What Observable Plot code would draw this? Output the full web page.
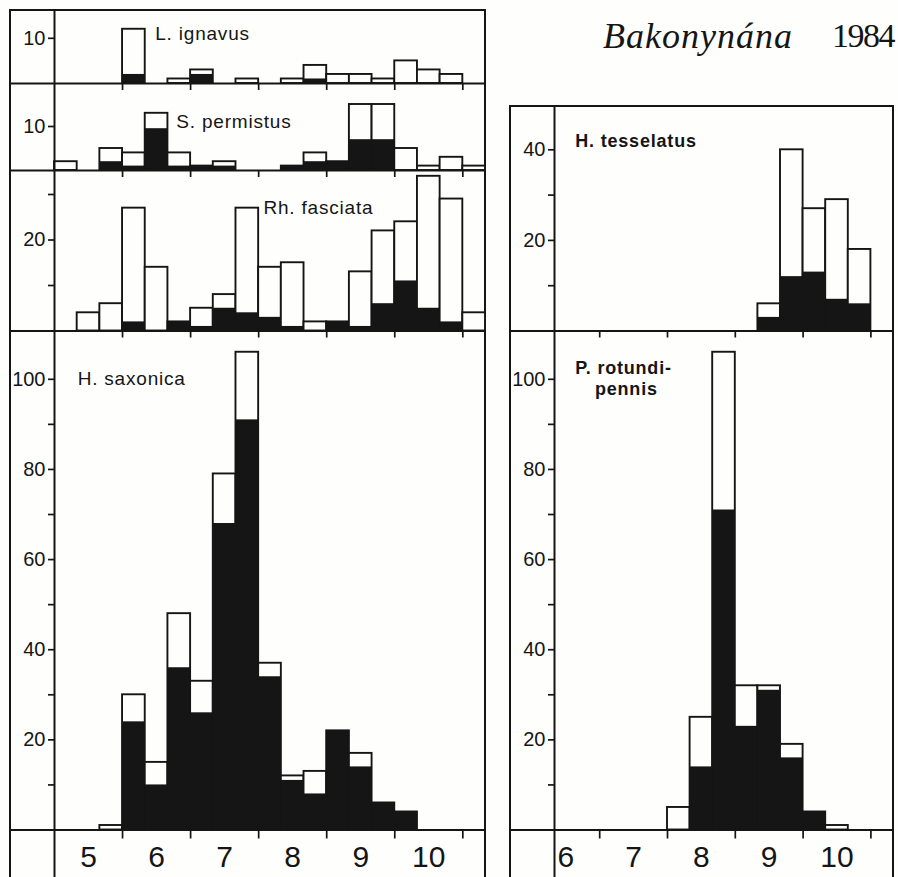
<!DOCTYPE html>
<html>
<head>
<meta charset="utf-8">
<script src="https://cdn.jsdelivr.net/npm/d3@7"></script>
<script src="https://cdn.jsdelivr.net/npm/@observablehq/plot@0.6"></script>
<style>
html, body { margin: 0; padding: 0; background: #fefefc; }
#fig { position: relative; width: 898px; height: 877px; overflow: hidden; background: #fefefc; }
.frame { position: absolute; box-sizing: border-box; border: 2px solid #151515; border-bottom: none; }
.title { position: absolute; font-family: "Liberation Serif", "Times New Roman", serif; font-size: 36px; line-height: 36px; color: #151515; white-space: nowrap; }
#fig svg { position: absolute; }
#fig svg g[aria-label="text"] text { letter-spacing: 0.8px; }
</style>
</head>
<body>
<div id="fig">
  <div class="frame" style="left:9px; top:9px; width:477px; height:900px;"></div>
  <div class="frame" style="left:509px; top:105px; width:385px; height:900px;"></div>
  <div class="title" style="left:603px; top:18px; letter-spacing:1px;"><i>Bakonynána</i></div>
  <div class="title" style="left:832px; top:18px; font-size:34px; letter-spacing:-1.5px;">1984</div>
</div>
<script>
// ---- time bins (month, ten-day period) ----
const leftMonths  = [5,5,5,6,6,6,7,7,7,8,8,8,9,9,9,10,10,10,11];
const leftDecades = [1,2,3,1,2,3,1,2,3,1,2,3,1,2,3,1,2,3,1];
const rightMonths  = [6,6,7,7,7,8,8,8,9,9,9,10,10,10,11];
const rightDecades = [2,3,1,2,3,1,2,3,1,2,3,1,2,3,1];

// ---- counts: total (open + black) and black part ----
const ignavusTotal   = [0,0,0,12,0,1,3,0,1,0,1,4,2,2,1,5,3,2,0];
const ignavusBlack   = [0,0,0,2,0,0,2,0,0,0,0,1,0,0,0,0,0,0,0];
const permistusTotal = [2,0,5,4,13,4,1,2,0,0,1,4,2,15,15,5,1,3,1];
const permistusBlack = [0,0,2,1,9.5,1,1,1,0,0,1,2,2,7,7,0,0,0,0];
const fasciataTotal  = [0,4,6,27,14,2,5,8,27,14,15,2,2,13,22,24,34,29,4];
const fasciataBlack  = [0,0,0,2,0,2,1,5,4,3,1,0,2,1,6,11,5,2,0];
const saxonicaTotal  = [0,0,1,30,15,48,33,79,106,37,12,13,22,17,6,4,0,0,0];
const saxonicaBlack  = [0,0,0,24,10,36,26,68,91,34,11,8,22,14,6,4,0,0,0];
const tesselatusTotal = [0,0,0,0,0,0,0,0,0,6,40,27,29,18,0];
const tesselatusBlack = [0,0,0,0,0,0,0,0,0,3,12,13,7,6,0];
const rotundiTotal    = [0,0,0,0,0,5,25,106,32,32,19,4,1,0,0];
const rotundiBlack    = [0,0,0,0,0,0,14,71,23,31,16,4,0,0,0];

// ---- axis ticks and labels ----
const leftMonthTicks  = [6,7,8,9,10,11];
const rightMonthTicks = [7,8,9,10,11];
const leftMonthLabels  = [5,6,7,8,9,10];
const rightMonthLabels = [6,7,8,9,10];
const smallTicks = [10];
const smallLabels = [10];
const midTicks = [10,20,30];
const midLabels = [20];
const tessTicks = [10,20,30,40];
const tessLabels = [20,40];
const bigTicks = [10,20,30,40,50,60,70,80,90,100];
const bigLabels = [20,40,60,80,100];

// ---- species names ----
const ignavusName = [{x: 6.48, y: 11, text: "L. ignavus"}];
const permistusName = [{x: 6.79, y: 11, text: "S. permistus"}];
const fasciataName = [{x: 8.07, y: 27, text: "Rh. fasciata"}];
const saxonicaName = [{x: 5.34, y: 100, text: "H. saxonica"}];
const tesselatusName = [{x: 6.64, y: 42, text: "H. tesselatus"}];
const rotundiName = [{x: 6.64, y: 102.5, text: "P. rotundi-"}, {x: 6.93, y: 97.8, text: "pennis"}];

const INK = "#151515";
const PAPER = "#fefefc";
const fig = document.getElementById("fig");

function panel(o) {
  const rows = o.months.map((m, i) => ({
    x1: m + (o.decades[i] - 1) / 3,
    x2: m + o.decades[i] / 3,
    total: o.total[i],
    black: o.black[i]
  }));
  const mb = o.bottom ? 48 : 9;
  const h = o.baseline - o.top + mb;
  const marks = [
    Plot.rectY(rows.filter(d => d.total > 0), {x1: "x1", x2: "x2", y: "total", fill: PAPER, stroke: INK, strokeWidth: 1.9}),
    Plot.rectY(rows.filter(d => d.black > 0), {x1: "x1", x2: "x2", y: "black", fill: INK}),
    Plot.ruleY([0], {insetLeft: -44, stroke: INK, strokeWidth: 2}),
    Plot.ruleX([o.xDomain[0]], {stroke: INK, strokeWidth: 2, insetBottom: o.bottom ? -mb : 0}),
    Plot.axisX(o.xTicks, {tickSize: o.bottom ? 9 : 7, tickFormat: () => "", label: null, stroke: INK, strokeWidth: 1.7}),
    Plot.axisY(o.yTicks, {tickSize: 6, tickPadding: 3, fontSize: 20, label: null, stroke: INK, strokeWidth: 1.7,
      tickFormat: d => o.yLabels.includes(d) ? String(d) : ""}),
    Plot.text(o.names, {x: "x", y: "y", text: "text", textAnchor: "start", fontSize: o.nameSize, fontWeight: o.weight, fill: INK})
  ];
  if (o.bottom) {
    marks.push(Plot.axisX(o.monthLabels.map(m => m + 0.5), {tickSize: 0, tickPadding: 16, fontSize: 30, label: null,
      tickFormat: d => String(Math.floor(d)), fill: INK}));
  }
  const svg = Plot.plot({
    width: o.width,
    height: h,
    marginLeft: 44,
    marginRight: 0,
    marginTop: 0,
    marginBottom: mb,
    x: {domain: o.xDomain},
    y: {domain: [0, o.yMax]},
    style: {background: "transparent", overflow: "visible", fontFamily: "'Liberation Sans', Arial, sans-serif", color: INK},
    marks
  });
  svg.style.left = o.left + "px";
  svg.style.top = o.top + "px";
  fig.appendChild(svg);
}

const L = {months: leftMonths, decades: leftDecades, xDomain: [5, 5 + 19/3], xTicks: leftMonthTicks, left: 10, width: 475, weight: "normal", nameSize: 19};
const R = {months: rightMonths, decades: rightDecades, xDomain: [6 + 1/3, 11 + 1/3], xTicks: rightMonthTicks, left: 510, width: 383, weight: "bold", nameSize: 18};

panel({...L, total: ignavusTotal, black: ignavusBlack, top: 10, baseline: 83, yMax: 73 / 4.52,
  yTicks: smallTicks, yLabels: smallLabels, names: ignavusName});
panel({...L, total: permistusTotal, black: permistusBlack, top: 83, baseline: 170, yMax: 87 / 4.4,
  yTicks: smallTicks, yLabels: smallLabels, names: permistusName});
panel({...L, total: fasciataTotal, black: fasciataBlack, top: 170, baseline: 330.5, yMax: 160.5 / 4.55,
  yTicks: midTicks, yLabels: midLabels, names: fasciataName});
panel({...L, total: saxonicaTotal, black: saxonicaBlack, top: 330.5, baseline: 829, yMax: 498.5 / 4.507,
  yTicks: bigTicks, yLabels: bigLabels, names: saxonicaName, bottom: true, monthLabels: leftMonthLabels});

panel({...R, total: tesselatusTotal, black: tesselatusBlack, top: 106, baseline: 330.5, yMax: 224.5 / 4.53,
  yTicks: tessTicks, yLabels: tessLabels, names: tesselatusName});
panel({...R, total: rotundiTotal, black: rotundiBlack, top: 330.5, baseline: 829, yMax: 498.5 / 4.507,
  yTicks: bigTicks, yLabels: bigLabels, names: rotundiName, bottom: true, monthLabels: rightMonthLabels});
</script>
</body>
</html>
